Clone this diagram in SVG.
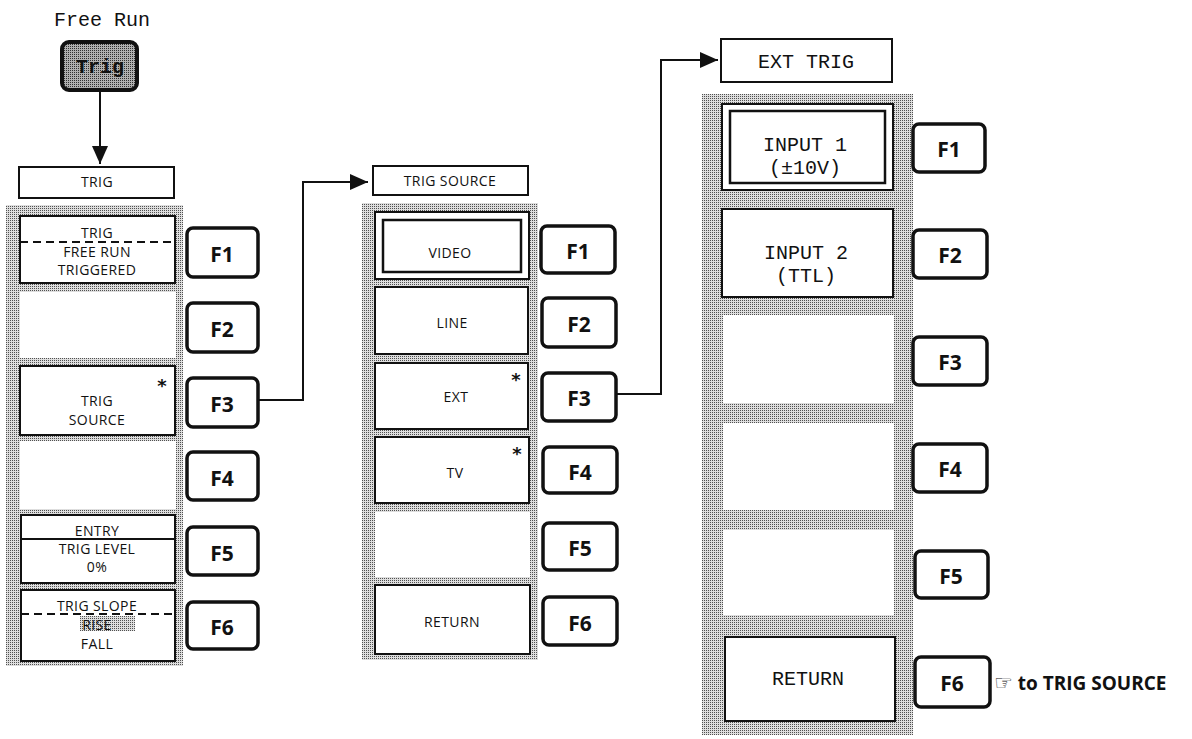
<svg xmlns="http://www.w3.org/2000/svg" width="1192" height="739" viewBox="0 0 1192 739">
<defs>
<pattern id="stip" patternUnits="userSpaceOnUse" width="2" height="2">
<rect width="2" height="2" fill="#dedede"/>
<rect width="1" height="1" fill="#505050"/>
</pattern>
<pattern id="stipDark" patternUnits="userSpaceOnUse" width="2" height="2">
<rect width="2" height="2" fill="#b0b0b0"/>
<rect width="1" height="1" fill="#303030"/>
</pattern>
<marker id="arr" markerUnits="userSpaceOnUse" markerWidth="20" markerHeight="18" refX="18" refY="8" orient="auto">
<path d="M0,0 L18,8 L0,16 Z" fill="#111"/>
</marker>
<style>
.panel{fill:url(#stip);}
.item{fill:#fff;stroke:#111;stroke-width:2;}
.blank{fill:#fff;}
.hdr{fill:#fff;stroke:#111;stroke-width:2;}
.key{fill:#fff;stroke:#111;stroke-width:3.5;}
.kt{font-family:"Open Sans","Noto Sans",sans-serif;font-weight:bold;font-size:21px;fill:#111;text-anchor:middle;}
.t{font-family:"Open Sans","Noto Sans",sans-serif;font-size:14px;fill:#111;text-anchor:middle;letter-spacing:0.4px;}
.m{font-family:"Liberation Mono","DejaVu Sans Mono",monospace;font-size:20px;fill:#111;text-anchor:middle;}
.ast{font-family:"DejaVu Sans",sans-serif;font-size:18px;font-weight:bold;fill:#111;text-anchor:middle;}
.dash{stroke:#111;stroke-width:2;stroke-dasharray:8 5;fill:none;}
.conn{stroke:#111;stroke-width:2;fill:none;}
.note{font-family:"Open Sans","Noto Sans",sans-serif;font-weight:bold;font-size:19px;fill:#111;}
</style>
</defs>

<g id="connectors">
<path class="conn" d="M100,91 L100,164" marker-end="url(#arr)"/>
<path class="conn" d="M259,400 L303,400 L303,182 L368,182" marker-end="url(#arr)"/>
<path class="conn" d="M616,394 L661,394 L661,60 L718,60" marker-end="url(#arr)"/>
</g>

<g id="free-run">
<text class="m" x="102" y="26">Free Run</text>
</g>
<g id="trig-key">
<rect x="62" y="42" width="75" height="48" rx="7" fill="url(#stipDark)" stroke="#111" stroke-width="4"/>
<text class="m" x="100" y="73" font-size="19" font-weight="bold">Trig</text>
</g>

<!-- Left column -->
<g id="trig-header">
<rect class="hdr" x="19" y="167" width="155" height="31"/>
<text class="t" x="97" y="187" font-size="13">TRIG</text>
</g>
<g id="trig-panel">
<rect class="panel" x="6" y="205" width="177" height="461"/>
</g>
<g id="trig-f1-item">
<rect class="item" x="20" y="216" width="155" height="67"/>
<text class="t" x="97" y="238">TRIG</text>
<line class="dash" x1="20" y1="242" x2="175" y2="242"/>
<text class="t" x="97" y="257">FREE RUN</text>
<text class="t" x="97" y="275">TRIGGERED</text>
</g>
<g id="trig-f2-item"><rect class="blank" x="20" y="292" width="156" height="66"/></g>
<g id="trig-f3-item">
<rect class="item" x="20" y="366" width="155" height="69"/>
<text class="ast" x="162" y="392">*</text>
<text class="t" x="97" y="406">TRIG</text>
<text class="t" x="97" y="425">SOURCE</text>
</g>
<g id="trig-f4-item"><rect class="blank" x="20" y="441" width="156" height="68"/></g>
<g id="trig-f5-item">
<rect class="item" x="21" y="515" width="154" height="68"/>
<text class="t" x="97" y="536">ENTRY</text>
<line class="conn" x1="21" y1="539" x2="175" y2="539"/>
<text class="t" x="97" y="554">TRIG LEVEL</text>
<text class="t" x="97" y="572">0%</text>
</g>
<g id="trig-f6-item">
<rect class="item" x="21" y="590" width="154" height="71"/>
<text class="t" x="97" y="611">TRIG SLOPE</text>
<line class="dash" x1="21" y1="614" x2="175" y2="614"/>
<rect x="80" y="616" width="55" height="15" fill="url(#stip)"/>
<text class="t" x="97" y="630">RISE</text>
<text class="t" x="97" y="649">FALL</text>
</g>
<g id="trig-keys">
<rect class="key" x="187" y="228" width="71" height="49" rx="6"/><text class="kt" x="222" y="262">F1</text>
<rect class="key" x="187" y="303" width="71" height="49" rx="6"/><text class="kt" x="222" y="337">F2</text>
<rect class="key" x="187" y="378" width="71" height="49" rx="6"/><text class="kt" x="222" y="412">F3</text>
<rect class="key" x="187" y="452" width="71" height="48" rx="6"/><text class="kt" x="222" y="486">F4</text>
<rect class="key" x="187" y="527" width="71" height="48" rx="6"/><text class="kt" x="222" y="561">F5</text>
<rect class="key" x="187" y="602" width="71" height="47" rx="6"/><text class="kt" x="222" y="635">F6</text>
</g>

<!-- Middle column -->
<g id="src-header">
<rect class="hdr" x="373" y="166" width="155" height="29"/>
<text class="t" x="450" y="186" font-size="13">TRIG SOURCE</text>
</g>
<g id="src-panel">
<rect class="panel" x="362" y="203" width="176" height="457"/>
</g>
<g id="src-video">
<rect class="item" x="375" y="212" width="154" height="67"/>
<rect x="383" y="220" width="138" height="52" fill="none" stroke="#111" stroke-width="2.5"/>
<text class="t" x="450" y="258">VIDEO</text>
</g>
<g id="src-line">
<rect class="item" x="375" y="287" width="153" height="67"/>
<text class="t" x="452" y="328">LINE</text>
</g>
<g id="src-ext">
<rect class="item" x="375" y="363" width="153" height="66"/>
<text class="ast" x="516" y="386">*</text>
<text class="t" x="456" y="402">EXT</text>
</g>
<g id="src-tv">
<rect class="item" x="375" y="437" width="154" height="66"/>
<text class="ast" x="517" y="460">*</text>
<text class="t" x="455" y="478">TV</text>
</g>
<g id="src-f5-item"><rect class="blank" x="375" y="512" width="155" height="65"/></g>
<g id="src-return">
<rect class="item" x="375" y="585" width="155" height="69"/>
<text class="t" x="452" y="627">RETURN</text>
</g>
<g id="src-keys">
<rect class="key" x="541" y="226" width="74" height="47" rx="6"/><text class="kt" x="578" y="259">F1</text>
<rect class="key" x="542" y="298" width="74" height="49" rx="6"/><text class="kt" x="579" y="332">F2</text>
<rect class="key" x="542" y="373" width="74" height="48" rx="6"/><text class="kt" x="579" y="406">F3</text>
<rect class="key" x="543" y="447" width="74" height="46" rx="6"/><text class="kt" x="580" y="480">F4</text>
<rect class="key" x="543" y="523" width="74" height="47" rx="6"/><text class="kt" x="580" y="556">F5</text>
<rect class="key" x="543" y="597" width="74" height="48" rx="6"/><text class="kt" x="580" y="631">F6</text>
</g>

<!-- Right column -->
<g id="ext-header">
<rect class="hdr" x="721" y="39" width="171" height="43"/>
<text class="m" x="806" y="68">EXT TRIG</text>
</g>
<g id="ext-panel">
<rect class="panel" x="702" y="94" width="211" height="641"/>
</g>
<g id="ext-input1">
<rect class="item" x="722" y="104" width="171" height="86"/>
<rect x="730" y="111" width="155" height="72" fill="none" stroke="#111" stroke-width="2.5"/>
<text class="m" x="805" y="151" font-size="19">INPUT 1</text>
<text class="m" x="805" y="174" font-size="19">(±10V)</text>
</g>
<g id="ext-input2">
<rect class="item" x="722" y="209" width="171" height="88"/>
<text class="m" x="806" y="259">INPUT 2</text>
<text class="m" x="806" y="282">(TTL)</text>
</g>
<g id="ext-f3-item"><rect class="blank" x="723" y="315" width="171" height="88"/></g>
<g id="ext-f4-item"><rect class="blank" x="723" y="423" width="171" height="87"/></g>
<g id="ext-f5-item"><rect class="blank" x="723" y="530" width="171" height="85"/></g>
<g id="ext-return">
<rect class="item" x="725" y="637" width="170" height="84"/>
<text class="m" x="808" y="685">RETURN</text>
</g>
<g id="ext-keys">
<rect class="key" x="913" y="124" width="72" height="48" rx="6"/><text class="kt" x="949" y="157">F1</text>
<rect class="key" x="913" y="230" width="74" height="48" rx="6"/><text class="kt" x="950" y="263">F2</text>
<rect class="key" x="913" y="337" width="74" height="48" rx="6"/><text class="kt" x="950" y="370">F3</text>
<rect class="key" x="913" y="444" width="74" height="48" rx="6"/><text class="kt" x="950" y="477">F4</text>
<rect class="key" x="915" y="551" width="73" height="47" rx="6"/><text class="kt" x="951" y="584">F5</text>
<rect class="key" x="915" y="657" width="75" height="50" rx="6"/><text class="kt" x="952" y="691">F6</text>
</g>
<g id="return-note">
<text class="note" x="994" y="690"><tspan font-family="DejaVu Sans" font-weight="normal" font-size="21">☞</tspan> to TRIG SOURCE</text>
</g>
</svg>
